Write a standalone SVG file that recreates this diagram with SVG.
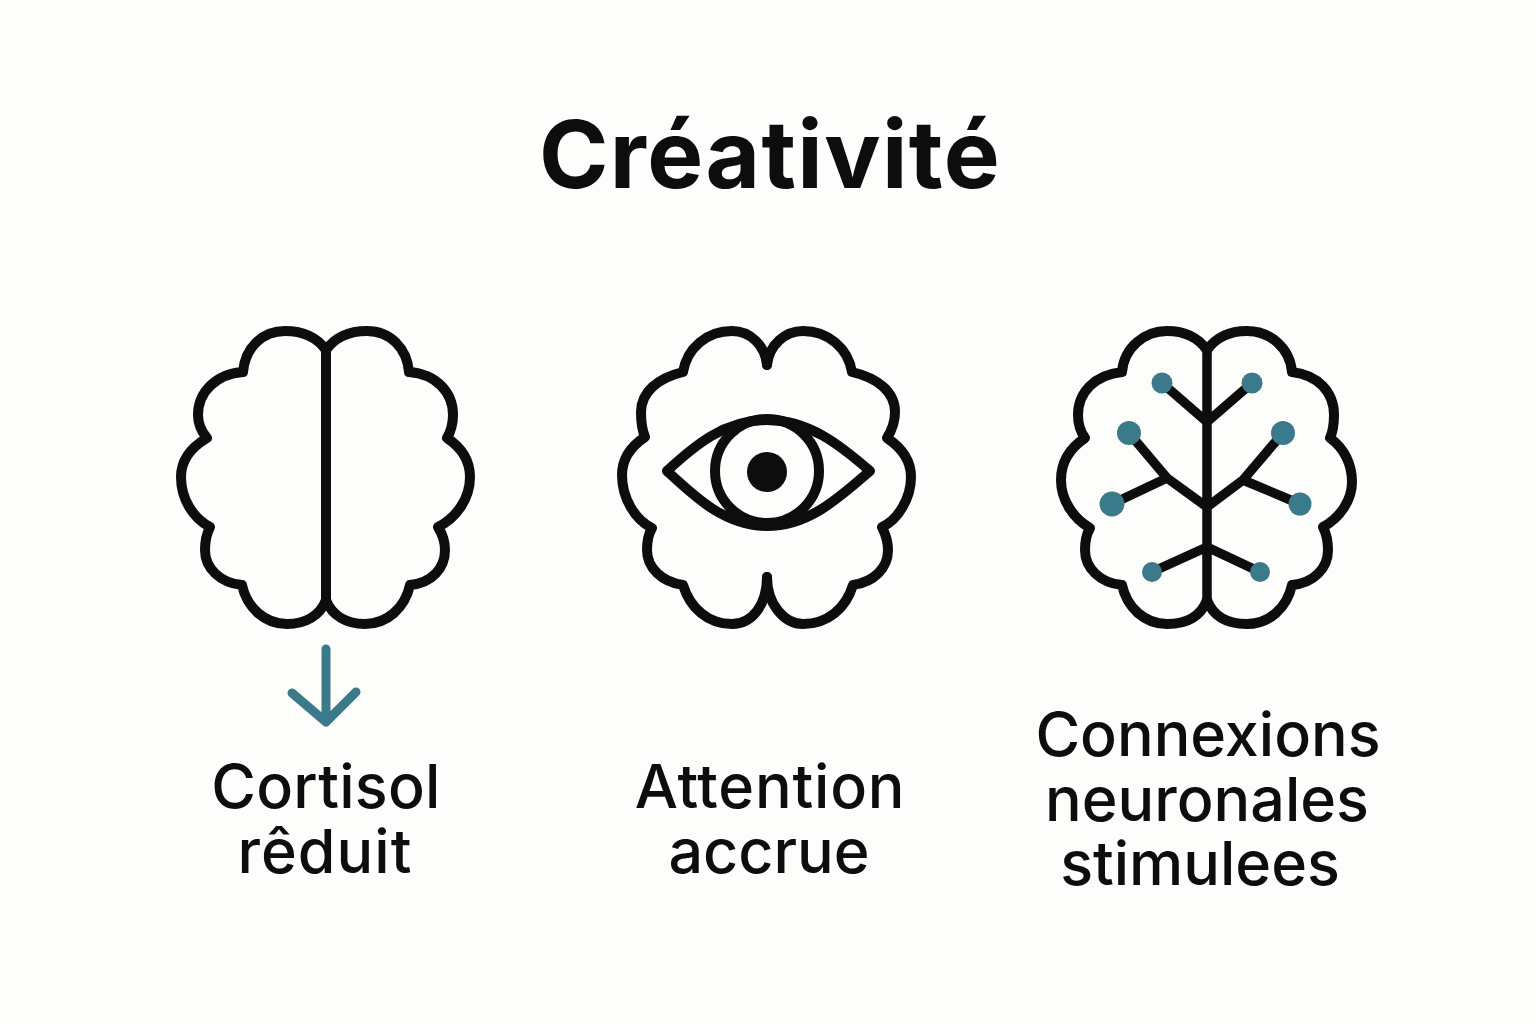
<svg xmlns="http://www.w3.org/2000/svg" width="1536" height="1024" viewBox="0 0 1536 1024">
<style>
.o{fill:none;stroke:#0d0d0d;stroke-width:10;stroke-linecap:round;stroke-linejoin:round}
.b{fill:none;stroke:#0d0d0d;stroke-width:9.5;stroke-linecap:round;stroke-linejoin:round}
.a{fill:none;stroke:#3b7a8a;stroke-width:9;stroke-linecap:round;stroke-linejoin:round}
.d{fill:#3b7a8a}
text{font-family:Inter,"Liberation Sans",sans-serif;fill:#0d0d0d;text-anchor:middle}
.t{font-size:94px;font-weight:700;letter-spacing:1.4px}
.l{font-size:61px;font-weight:500}
</style>
<rect width="1536" height="1024" fill="#fdfdfb"/>
<text id="title" class="t" x="770" y="188">Créativité</text>
<g id="brain-cortisol">
<path class="o" d="M326 350C316 336 301 331 285 331C262 331 245 348 243 372C216 374 198 392 198 415C198 423 201 431 207 438C190 448 181 460 181 477C181 499 193 518 210 527C206 535 205 542 205 550C205 568 220 583 242 585C247 608 265 624 287 624C305 624 320 616 326 600"/>
<path class="o" d="M326 350C336 336 351 331 367 331C390 331 407 348 409 372C436 374 453 392 453 415C453 423 451 431 447 438C462 448 470 460 470 477C470 499 456 518 438 527C443 535 445 542 445 550C445 568 432 583 410 585C405 608 387 624 365 624C347 624 332 616 326 600"/>
<path class="o" d="M326 350V600"/>
<text class="l" x="326" y="808" style="letter-spacing:.25px">Cortisol</text>
<text class="l" x="325" y="873" style="letter-spacing:1px">rêduit</text>
</g>
<g id="brain-attention">
<path class="o" d="M767 365C765 345 750 331 732 331C707 331 687 348 683 372C658 378 641 392 641 412C641 422 642 430 645 437C630 447 622 460 622 475C622 498 635 520 652 528C648 535 647 542 647 550C647 568 662 582 683 585C690 608 708 624 732 624C752 624 767 605 767 577"/>
<path class="o" d="M767 365C769 345 785 331 803 331C828 331 848 348 852 372C878 378 895 392 895 412C895 422 892 430 887 438C902 448 911 460 911 477C911 498 898 520 882 527C886 535 888 542 888 550C888 568 874 582 853 585C846 608 828 624 803 624C785 624 767 605 767 577"/>
<path class="o" d="M667 471C695 445 725 420 767 420C809 420 840 445 870 471C840 497 809 526 767 526C725 526 695 497 667 471Z"/>
<circle class="o" cx="767" cy="471" r="52"/>
<circle cx="767" cy="472" r="20" fill="#0d0d0d"/>
<text class="l" x="770" y="808" style="letter-spacing:.8px">Attention</text>
<text class="l" x="769" y="873">accrue</text>
</g>
<g id="brain-connexions">
<path class="o" d="M1207 350C1197 336 1182 331 1167 331C1144 331 1124 348 1122 372C1095 375 1078 392 1078 415C1078 423 1080 431 1085 438C1070 448 1061 462 1061 480C1061 500 1073 518 1090 528C1086 535 1085 542 1085 550C1085 568 1100 583 1122 585C1127 608 1145 624 1167 624C1187 624 1201 616 1207 600"/>
<path class="o" d="M1207 350C1217 336 1232 331 1247 331C1270 331 1290 348 1292 372C1318 375 1334 392 1334 415C1334 423 1333 431 1330 438C1344 448 1352 464 1352 482C1352 500 1340 518 1323 527C1327 535 1328 542 1328 550C1328 568 1314 583 1292 585C1287 608 1269 624 1247 624C1227 624 1213 616 1207 600"/>
<path class="b" d="M1207 350V600M1162 383L1207 422L1252 383M1129 433L1167 478L1207 507L1243 480L1283 433M1112 504L1167 478M1300 504L1243 480M1152 572L1207 547L1260 572"/>
<circle class="d" cx="1162" cy="383" r="10.5"/>
<circle class="d" cx="1252" cy="383" r="10.5"/>
<circle class="d" cx="1129" cy="433" r="12"/>
<circle class="d" cx="1283" cy="433" r="12"/>
<circle class="d" cx="1112" cy="504" r="12.5"/>
<circle class="d" cx="1300" cy="504" r="11.5"/>
<circle class="d" cx="1152" cy="572" r="10"/>
<circle class="d" cx="1260" cy="572" r="10"/>
<text class="l" x="1208" y="756">Connexions</text>
<text class="l" x="1207" y="821">neuronales</text>
<text class="l" x="1200" y="885">stimulees</text>
</g>
<g id="connectors">
<path class="a" d="M326 649V721M292 693L326 722L356 692"/>
</g>
</svg>
